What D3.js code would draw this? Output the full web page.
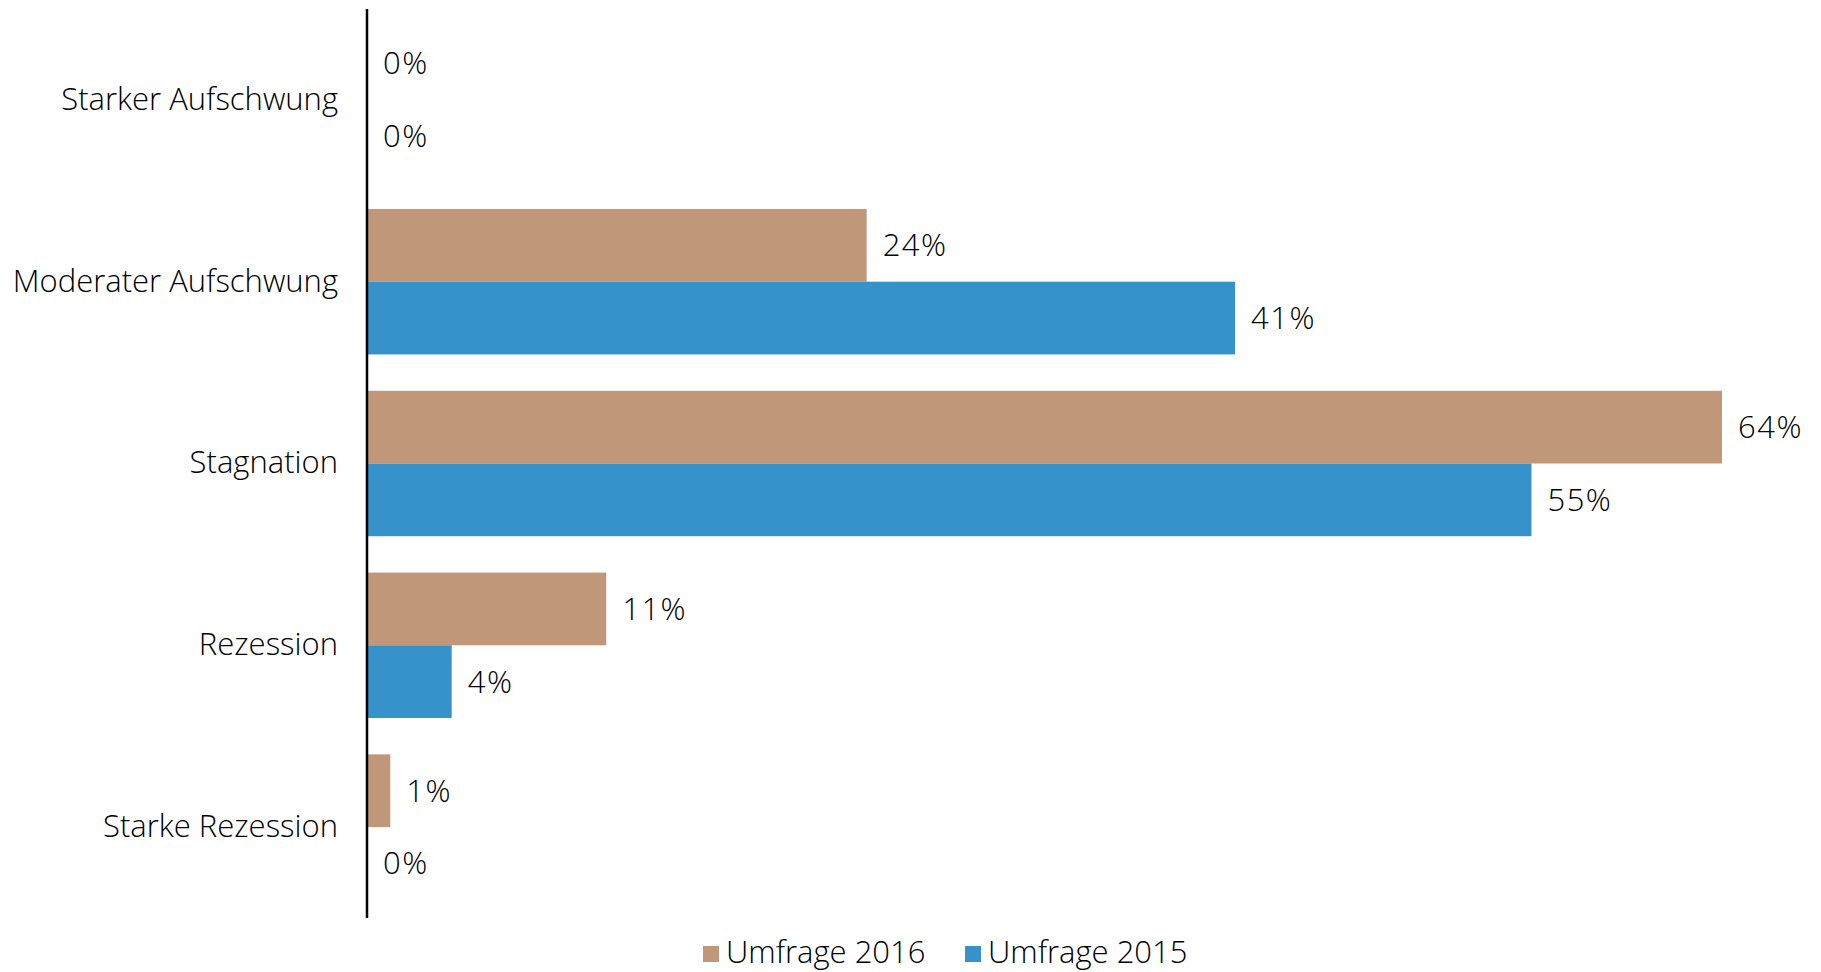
<!DOCTYPE html>
<html>
<head>
<meta charset="utf-8">
<script src="https://cdn.jsdelivr.net/npm/d3@7"></script>
<style>
  body { margin: 0; background: #fff; }
  text { font-family: "Open Sans", "Noto Sans", sans-serif; fill: #000; font-weight: 300; }
</style>
</head>
<body>
<svg width="1821" height="972"></svg>
<script>
var categories = ["Starker Aufschwung", "Moderater Aufschwung", "Stagnation", "Rezession", "Starke Rezession"];
var seriesNames = ["Umfrage 2016", "Umfrage 2015"];
var values2016 = [0, 23.6, 64, 11.3, 1.1];
var values2015 = [0, 41, 55, 4, 0];
var colors = ["#C09778", "#3692CB"];

var svg = d3.select("svg"),
    width = +svg.attr("width"),
    height = +svg.attr("height");

var margin = { top: 9, left: 367, right: 99, bottom: 54 };

var x = d3.scaleLinear()
    .domain([0, 64])
    .range([margin.left, 1722]);

var y = d3.scaleBand()
    .domain(categories)
    .range([margin.top, height - margin.bottom])
    .paddingInner(0.2)
    .paddingOuter(0.1);

var ySub = d3.scaleBand()
    .domain(seriesNames)
    .range([0, y.bandwidth()]);

// flatten into rows for drawing
var rows = [];
categories.forEach(function (c, i) {
    rows.push({ cat: c, series: seriesNames[0], value: values2016[i] });
    rows.push({ cat: c, series: seriesNames[1], value: values2015[i] });
});

var bars = svg.append("g").attr("class", "bars");

bars.selectAll("rect")
    .data(rows)
    .enter().append("rect")
    .attr("x", x(0))
    .attr("y", function (d) { return y(d.cat) + ySub(d.series); })
    .attr("width", function (d) { return x(d.value) - x(0); })
    .attr("height", ySub.bandwidth())
    .attr("fill", function (d) { return colors[seriesNames.indexOf(d.series)]; });

bars.selectAll("text")
    .data(rows)
    .enter().append("text")
    .attr("x", function (d) { return x(d.value) + 16; })
    .attr("y", function (d) { return y(d.cat) + ySub(d.series) + ySub.bandwidth() / 2; })
    .attr("dy", "0.35em")
    .style("font-size", "31px")
    .style("letter-spacing", "1.5px")
    .text(function (d) { return Math.round(d.value) + "%"; });

// category axis
var yAxis = svg.append("g")
    .attr("transform", "translate(" + x(0) + ",0)")
    .call(d3.axisLeft(y).tickSize(0).tickPadding(29));

yAxis.select(".domain").remove();
yAxis.selectAll("text")
    .style("font-size", "31px")
    .style("font-family", "'Open Sans', 'Noto Sans', sans-serif")
    .style("font-weight", "300")
    .attr("fill", "#000");

svg.append("line")
    .attr("x1", x(0)).attr("x2", x(0))
    .attr("y1", margin.top).attr("y2", height - margin.bottom)
    .attr("stroke", "#000")
    .attr("stroke-width", 2.5);

// legend
var legend = svg.append("g").attr("class", "legend");
var legendX = [703, 965];

var item = legend.selectAll("g")
    .data(seriesNames)
    .enter().append("g")
    .attr("transform", function (d, i) { return "translate(" + legendX[i] + ",952)"; });

item.append("rect")
    .attr("x", 0).attr("y", -6)
    .attr("width", 16).attr("height", 16)
    .attr("fill", function (d, i) { return colors[i]; });

item.append("text")
    .attr("x", 23)
    .attr("dy", "0.35em")
    .style("font-size", "31px")
    .text(function (d) { return d; });
</script>
</body>
</html>
